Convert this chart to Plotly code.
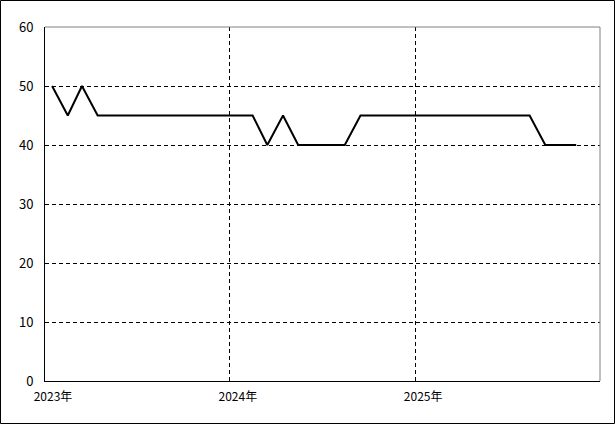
import plotly.graph_objects as go

months = [f"{y}-{m:02d}-15" for y in (2023, 2024, 2025) for m in range(1, 13)][:35]
values = [50, 45, 50, 45, 45, 45, 45, 45, 45, 45, 45, 45,
          45, 45, 40, 45, 40, 40, 40, 40, 45, 45, 45, 45,
          45, 45, 45, 45, 45, 45, 45, 45, 40, 40, 40]
y_ticks = [0, 10, 20, 30, 40, 50, 60]

W, H = 615, 424
L, R, T, B = 45, 15, 27, 43
pw, ph = W - L - R, H - T - B

fig = go.Figure(go.Scatter(x=months, y=values, mode="lines",
                           line=dict(color="black", width=2)))

font = dict(family="Noto Sans CJK JP, Liberation Sans, sans-serif", size=12, color="black")
fig.update_layout(
    width=W, height=H, margin=dict(l=L, r=R, t=T, b=B, autoexpand=False),
    paper_bgcolor="white", plot_bgcolor="white", showlegend=False,
    font=font,
    xaxis=dict(type="date", range=["2023-01-01", "2026-01-01"], tick0="2023-01-01",
               dtick="M12", tickformat="%Y年", showgrid=True, gridcolor="black",
               griddash="4px,3px", gridwidth=1, showline=True, linecolor="black",
               linewidth=1, ticks="", ticklabelshift=8, ticklabelstandoff=5,
               zeroline=False, fixedrange=True, automargin=False),
    yaxis=dict(range=[0, 60], tickvals=y_ticks, showgrid=True, gridcolor="black",
               griddash="4px,3px", gridwidth=1, showline=True, linecolor="black",
               linewidth=1, ticks="", ticklabelstandoff=8, zeroline=False,
               tickfont=dict(size=13), fixedrange=True, automargin=False),
    shapes=[
        dict(type="line", xref="paper", yref="paper", x0=0, x1=1, y0=1, y1=1,
             line=dict(color="gray", width=1)),
        dict(type="line", xref="paper", yref="paper", x0=1, x1=1, y0=0, y1=1,
             line=dict(color="gray", width=1)),
        dict(type="rect", xref="paper", yref="paper",
             x0=(-L + 0.5) / pw, x1=(pw + R - 0.5) / pw,
             y0=(-B + 0.5) / ph, y1=(ph + T - 0.5) / ph,
             line=dict(color="black", width=1)),
    ],
)
fig.write_html("out.html", config={"displayModeBar": False, "staticPlot": True},
               post_script="document.body.style.margin='0';")
with open("out.html", encoding="utf-8") as f:
    html = f.read()
html = html.replace("<head>", "<head><style>html,body{margin:0;padding:0;overflow:hidden}</style>", 1)
with open("out.html", "w", encoding="utf-8") as f:
    f.write(html)
